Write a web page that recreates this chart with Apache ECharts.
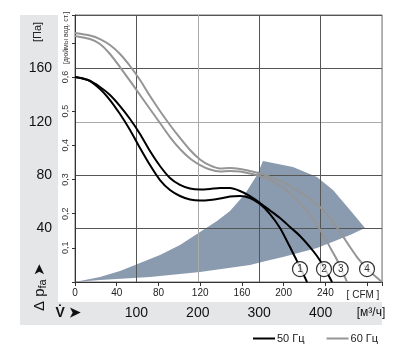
<!DOCTYPE html>
<html><head><meta charset="utf-8">
<script src="https://cdn.jsdelivr.net/npm/echarts@6/dist/echarts.min.js"></script>
<style>html,body{margin:0;padding:0;background:#fff}#c{width:399px;height:359px}</style>
</head><body><div id="c"></div>
<script>
// ---- tick labels ----
const m3hTicks = [100, 200, 300, 400];
const cfmTicks = [0, 40, 80, 120, 160, 200, 240];
const paTicks = [40, 80, 120, 160];
const inchTicks = [0.1, 0.2, 0.3, 0.4, 0.5, 0.6];
const M3H_PER_CFM = 1.699;
const PA_PER_INCH = 256;

// ---- curves (x: m³/h, y: Pa) ----
const curve1X = [0,21.2,40.7,57.0,73.3,89.6,105.9,122.1,138.4,154.7,171.0,187.3,203.6,219.9,236.2,252.4,268.7,285.0,301.3,317.6,333.9,350.2,358.3,366.4,377.9];
const curve1Y = [153.6,151.3,144.6,136.3,125.8,113.9,100.4,87.6,76.4,68.9,64.4,61.8,61.0,61.4,62.5,64.0,64.4,62.9,58.4,50.9,40.4,26.2,18.7,11.2,0];
const curve2X = [0,21.2,40.7,57.0,73.3,89.6,105.9,122.1,138.4,154.7,171.0,187.3,203.6,219.9,236.2,252.4,268.7,285.0,301.3,317.6,333.9,350.2,366.4,382.7,394.1,405.5,418.6];
const curve2Y = [153.6,151.3,146.1,140.1,131.8,122.1,110.9,98.1,86.9,77.9,72.7,70.0,69.3,69.7,70.4,70.4,68.2,64.4,59.2,53.6,47.9,41.2,34.5,26.2,19.5,11.2,0];
const curve3X = [0,24.4,40.7,57.0,73.3,89.6,105.9,122.1,138.4,154.7,171.0,187.3,203.6,219.9,236.2,252.4,268.7,285.0,301.3,317.6,333.9,350.2,366.4,382.7,394.1,407.2,416.9,425.1,433.2,443.0];
const curve3Y = [184.3,182.0,178.3,170.8,161.0,150.6,140.1,129.6,119.1,108.6,99.6,92.5,87.6,84.3,82.8,83.1,82.8,81.3,79.4,76.4,71.9,66.7,59.2,50.2,42.7,33.0,24.7,18.0,10.5,0];
const curve4X = [0,24.4,40.7,57.0,73.3,89.6,105.9,122.1,138.4,154.7,171.0,187.3,203.6,219.9,236.2,252.4,268.7,285.0,301.3,317.6,333.9,350.2,366.4,382.7,399.0,415.3,431.6,447.9,459.3,467.4,475.6,500];
const curve4Y = [186.5,184.6,182.0,177.5,170.8,161.8,151.3,139.3,128.1,117.6,107.9,98.9,91.8,87.3,85.0,85.4,84.6,83.1,81.3,78.7,75.7,71.9,67.4,62.2,56.2,47.9,37.5,26.2,18.7,14.2,9.7,0];

// ---- operating region (shaded) ----
const regionX = [0,40.7,73.3,105.9,138.4,171.0,203.6,231.3,252.4,276.9,296.4,306.2,355.0,394.1,420.2,447.9,472.3,447.9,394.1,338.8,317.6,285.0,203.6,122.1,40.7];
const regionY = [0,3.7,8.2,14.2,20.2,27.7,37.5,45.7,53.2,65.9,80.1,90.6,86.1,78.6,68.9,53.9,40.4,35.2,25.5,18.7,16.5,12.7,7.5,3.7,1.5];

// ---- curve number markers ----
const markerX = [366.4, 405.5, 432.7, 475.6];
const markerY = [9.7, 9.7, 9.7, 9.7];
const markerLabels = ['1', '2', '3', '4'];

const FONT = "'Liberation Sans Narrow','Liberation Sans',Arial,sans-serif";
const zip = (xs, ys) => xs.map((x, i) => [x, ys[i]]);
const BLACK = '#000', GRAY = '#959595';

const chart = echarts.init(document.getElementById('c'), null, {renderer: 'canvas'});
const lineSeries = (name, xs, ys, color) => ({
  name, type: 'line', data: zip(xs, ys), smooth: 0.25, symbol: 'none',
  xAxisIndex: 0, yAxisIndex: 0, z: 5,
  lineStyle: {color, width: 2}, itemStyle: {color}
});

chart.setOption({
  animation: false,
  textStyle: {fontFamily: FONT},
  grid: {left: 75, right: 17, top: 15, bottom: 77, show: true, borderColor: '#777', borderWidth: 1, containLabel: false},
  legend: {
    left: 248, top: 328, itemWidth: 22, itemHeight: 2, itemGap: 22, icon: 'rect',
    textStyle: {fontSize: 11, color: '#222', fontFamily: FONT, padding: [0, 0, 0, -3]},
    data: ['50 Гц', '60 Гц']
  },
  xAxis: [
    {type: 'value', min: 0, max: 500, interval: 100, position: 'bottom',
      axisLine: {show: true, onZero: false, lineStyle: {color: '#333'}},
      axisTick: {show: false},
      axisLabel: {margin: 24, fontSize: 14, color: '#111', fontFamily: FONT,
        formatter: v => m3hTicks.includes(v) ? String(v) : ''},
      splitLine: {show: true, lineStyle: {color: ['#555', '#555', '#aaa', '#555', '#555', '#aaa'], width: 1}}},
    {type: 'value', min: 0, max: 500 / M3H_PER_CFM, interval: 40, position: 'bottom',
      axisLine: {show: false, onZero: false},
      axisTick: {show: true, length: 4, lineStyle: {color: '#333'}},
      axisLabel: {margin: 6, fontSize: 10, color: '#222', fontFamily: FONT,
        formatter: v => cfmTicks.includes(v) ? String(v) : ''},
      splitLine: {show: false}}
  ],
  yAxis: [
    {type: 'value', min: 0, max: 200, interval: 40, position: 'left',
      axisLine: {show: true, onZero: false, lineStyle: {color: '#333'}},
      axisTick: {show: false},
      axisLabel: {margin: 23, fontSize: 14, color: '#111', fontFamily: FONT,
        formatter: v => paTicks.includes(v) ? String(v) : ''},
      splitLine: {show: true, lineStyle: {color: ['#555', '#555', '#555', '#aaa', '#555', '#555'], width: 1}}},
    {type: 'value', min: 0, max: 200 / PA_PER_INCH, interval: 0.1, position: 'left',
      axisLine: {show: false, onZero: false},
      axisTick: {show: true, length: 3, lineStyle: {color: '#333'}},
      axisLabel: {rotate: 90, margin: 5, fontSize: 9, color: '#333', fontFamily: FONT,
        formatter: v => {
          const t = inchTicks.find(k => Math.abs(k - v) < 1e-6);
          return t ? t.toFixed(1).replace('.', ',') : '';
        }},
      splitLine: {show: false}}
  ],
  graphic: [
    {type: 'rect', z: -10, shape: {x: 20, y: 15, width: 38, height: 310}, style: {fill: '#e4e6e8'}},
    {type: 'rect', z: -10, shape: {x: 20, y: 302, width: 362, height: 23}, style: {fill: '#e4e6e8'}},
    {type: 'text', x: 38, y: 32, rotation: Math.PI / 2,
      style: {text: '[Па]', font: '11px ' + FONT, fill: '#222', align: 'center', verticalAlign: 'middle'}},
    {type: 'text', x: 66, y: 38, rotation: Math.PI / 2,
      style: {text: '[дюймы вод. ст.]', font: '7px ' + FONT, fill: '#333', align: 'center', verticalAlign: 'middle'}},
    {type: 'text', x: 40, y: 287, rotation: Math.PI / 2,
      style: {
        text: '{a|Δ p}{s|fa} {a|➤}',
        align: 'center', verticalAlign: 'middle',
        rich: {a: {fontSize: 15, fontFamily: FONT, fill: '#111'}, s: {fontSize: 11, fontFamily: FONT, fill: '#111', verticalAlign: 'bottom', padding: [6, 0, 0, 0]}}
      }},
    {type: 'text', x: 68, y: 313,
      style: {text: 'V\u0307 ➤', font: 'bold 14px ' + FONT, fill: '#111', align: 'center', verticalAlign: 'middle'}},
    {type: 'text', x: 363, y: 295,
      style: {text: '[ CFM ]', font: '10px ' + FONT, fill: '#222', align: 'center', verticalAlign: 'middle'}},
    {type: 'text', x: 371, y: 313,
      style: {text: '[м³/ч]', font: '12px ' + FONT, fill: '#111', align: 'center', verticalAlign: 'middle'}}
  ],
  series: [
    {type: 'custom', name: 'region', xAxisIndex: 0, yAxisIndex: 0, z: -1, silent: true,
      data: [[0, 0]],
      renderItem: (params, api) => {
        const pts = regionX.map((x, i) => api.coord([x, regionY[i]]));
        return {type: 'polygon', shape: {points: pts}, style: {fill: '#8a9bb0'}};
      }},
    lineSeries('50 Гц', curve1X, curve1Y, BLACK),
    lineSeries('50 Гц', curve2X, curve2Y, BLACK),
    lineSeries('60 Гц', curve3X, curve3Y, GRAY),
    lineSeries('60 Гц', curve4X, curve4Y, GRAY),
    {type: 'scatter', name: 'markers', xAxisIndex: 0, yAxisIndex: 0, z: 10,
      data: markerX.map((x, i) => ({value: [x, markerY[i]], label: {formatter: markerLabels[i]}})),
      symbol: 'circle', symbolSize: 15,
      itemStyle: {color: '#fff', borderColor: '#000', borderWidth: 1.2},
      label: {show: true, position: 'inside', fontSize: 10, color: '#000', fontFamily: FONT}}
  ]
});
</script></body></html>
